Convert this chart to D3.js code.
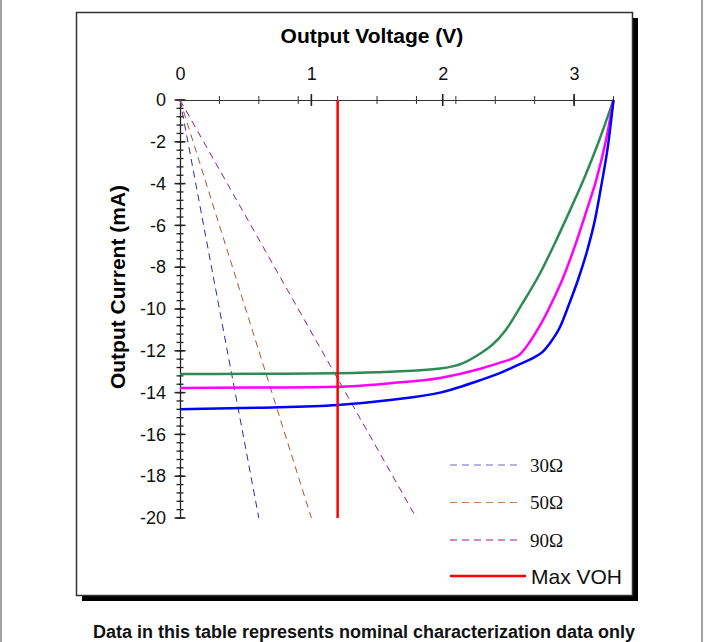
<!DOCTYPE html>
<html><head><meta charset="utf-8">
<script src="https://cdn.jsdelivr.net/npm/d3@7/dist/d3.min.js"></script>
<style>body{margin:0;background:#fff}svg{display:block}</style>
</head><body>
<svg id="c" width="706" height="642"></svg>
<script>
// ---- data ----
const xMajorTicks = [0, 1, 2, 3];
const xMinorTicks = [0.3, 0.6, 0.9, 1.2, 1.5, 1.8, 2.1, 2.4, 2.7, 3.0, 3.3];
const yMajorTicks = [0, -2, -4, -6, -8, -10, -12, -14, -16, -18, -20];
const yMinorStep = 0.4;
const greenV = [0, 0.6, 1.2, 1.6, 1.98, 2.15, 2.28, 2.38, 2.48, 2.6, 2.74, 2.85, 2.96, 3.08, 3.19, 3.3];
const greenI = [-13.11, -13.1, -13.07, -13.0, -12.85, -12.6, -12.15, -11.7, -11.0, -9.8, -8.3, -6.9, -5.4, -3.7, -1.95, 0];
const magentaV = [0, 0.6, 1.2, 1.6, 1.98, 2.28, 2.43, 2.59, 2.66, 2.74, 2.83, 2.91, 3.0, 3.1, 3.17, 3.24, 3.3];
const magentaI = [-13.78, -13.76, -13.72, -13.55, -13.3, -12.87, -12.58, -12.15, -11.6, -10.8, -9.7, -8.6, -7.1, -5.2, -3.8, -2.0, 0];
const blueV = [0, 0.6, 1.2, 1.6, 1.98, 2.28, 2.43, 2.6, 2.7, 2.76, 2.82, 2.89, 2.96, 3.03, 3.1, 3.16, 3.21, 3.26, 3.3];
const blueI = [-14.8, -14.72, -14.59, -14.35, -14.0, -13.42, -13.08, -12.6, -12.3, -12.05, -11.6, -10.9, -9.8, -8.6, -7.2, -5.7, -4.0, -2.1, 0];
const loadNames = ["30\u03A9", "50\u03A9", "90\u03A9"];
const loadOhms = [30, 50, 90];
const maxVOH = 1.2;
const xTitle = "Output Voltage (V)";
const yTitle = "Output Current (mA)";
const footer = "Data in this table represents nominal characterization data only";

// ---- drawing ----
const svg = d3.select("#c");
const x = d3.scaleLinear().domain([0, 3.3]).range([180, 613.5]);
const y = d3.scaleLinear().domain([0, -20]).range([100, 518]);
const SANS = "'Liberation Sans', Arial, sans-serif";
const SERIF = "'Liberation Serif', 'Times New Roman', serif";
const fmt = d => String(d);

// page border lines
svg.append("line").attr("x1", 1).attr("x2", 1).attr("y1", 0).attr("y2", 642).attr("stroke", "#444").attr("stroke-width", 1);
svg.append("line").attr("x1", 702).attr("x2", 702).attr("y1", 0).attr("y2", 642).attr("stroke", "#444").attr("stroke-width", 1);

// box shadow + frame
svg.append("rect").attr("x", 82).attr("y", 18).attr("width", 556).attr("height", 583).attr("fill", "#000");
svg.append("rect").attr("x", 76.5).attr("y", 12.5).attr("width", 556).attr("height", 583).attr("fill", "#fff").attr("stroke", "#333").attr("stroke-width", 1.5);

// titles
svg.append("text").attr("x", 372).attr("y", 43).attr("text-anchor", "middle")
  .attr("font-family", SANS).attr("font-weight", "bold").attr("font-size", 21).text(xTitle);
svg.append("text").attr("transform", "translate(125,287) rotate(-90)").attr("text-anchor", "middle")
  .attr("font-family", SANS).attr("font-weight", "bold").attr("font-size", 21).text(yTitle);

// x axis
const gx = svg.append("g").attr("transform", "translate(0,100)");
gx.call(d3.axisTop(x).tickValues(xMajorTicks).tickSize(0).tickPadding(20).tickFormat(fmt));
gx.select(".domain").attr("stroke", "#333");
gx.selectAll("text").attr("font-family", SANS).attr("font-size", 18).attr("fill", "#111");
gx.selectAll(".minor").data(xMinorTicks).join("line").attr("class", "minor")
  .attr("x1", d => x(d)).attr("x2", d => x(d)).attr("y1", -4).attr("y2", 4).attr("stroke", "#333").attr("stroke-width", 1);
gx.selectAll(".major").data(xMajorTicks.slice(1)).join("line").attr("class", "major")
  .attr("x1", d => x(d)).attr("x2", d => x(d)).attr("y1", -6).attr("y2", 6).attr("stroke", "#222").attr("stroke-width", 1.6);

// y axis
const gy = svg.append("g").attr("transform", "translate(180,0)");
gy.call(d3.axisLeft(y).tickValues(yMajorTicks).tickSize(0).tickPadding(14).tickFormat(fmt));
gy.select(".domain").attr("stroke", "#222").attr("stroke-width", 1.3);
gy.selectAll("text").attr("font-family", SANS).attr("font-size", 18).attr("fill", "#111");
const yMinor = d3.range(0, -20.001, -yMinorStep);
gy.selectAll(".minor").data(yMinor).join("line").attr("class", "minor")
  .attr("x1", -3.5).attr("x2", 3.5).attr("y1", d => y(d)).attr("y2", d => y(d)).attr("stroke", "#222").attr("stroke-width", 1.3);
gy.selectAll(".major").data(yMajorTicks).join("line").attr("class", "major")
  .attr("x1", -5.5).attr("x2", 5.5).attr("y1", d => y(d)).attr("y2", d => y(d)).attr("stroke", "#222").attr("stroke-width", 1.5);

// load lines: V = I * R, I = 20 mA
const loadColors = ["#2c2ca0", "#b2522a", "#8e1a8e"];
const legendDashColors = ["#6a6ac8", "#c87a52", "#9a1a9a"];
loadOhms.forEach((r, k) => {
  const vEnd = 0.020 * r;
  svg.append("line").attr("x1", x(0)).attr("y1", y(0)).attr("x2", x(vEnd)).attr("y2", y(-20))
    .attr("stroke", loadColors[k]).attr("stroke-width", 1).attr("stroke-dasharray", "7,5");
});

// curves
const line = d3.line().x(d => x(d[0])).y(d => y(d[1])).curve(d3.curveMonotoneX);
const curves = [
  {v: greenV, i: greenI, c: "#2e8b57"},
  {v: magentaV, i: magentaI, c: "#ff00ff"},
  {v: blueV, i: blueI, c: "#0000ff"}
];
curves.forEach(s => {
  svg.append("path").attr("d", line(s.v.map((v, k) => [v, s.i[k]])))
    .attr("fill", "none").attr("stroke", s.c).attr("stroke-width", 2.5);
});

// max VOH
svg.append("line").attr("x1", x(maxVOH)).attr("x2", x(maxVOH)).attr("y1", y(0)).attr("y2", y(-20))
  .attr("stroke", "#ff0000").attr("stroke-width", 2.5);

// legend
const legY = [465, 502.5, 540];
loadNames.forEach((n, k) => {
  svg.append("line").attr("x1", 450).attr("x2", 521).attr("y1", legY[k]).attr("y2", legY[k])
    .attr("stroke", legendDashColors[k]).attr("stroke-width", 1.2).attr("stroke-dasharray", "7,5");
  svg.append("text").attr("x", 530).attr("y", legY[k] + 6.5).attr("font-family", SERIF).attr("font-size", 19).attr("fill", "#111").text(n);
});
svg.append("line").attr("x1", 450).attr("x2", 526).attr("y1", 576).attr("y2", 576).attr("stroke", "#ff0000").attr("stroke-width", 2.5);
svg.append("text").attr("x", 531).attr("y", 583.5).attr("font-family", SANS).attr("font-size", 21).attr("fill", "#111").text("Max VOH");

// footer
svg.append("text").attr("x", 364).attr("y", 638).attr("text-anchor", "middle")
  .attr("font-family", SANS).attr("font-weight", "bold").attr("font-size", 18).attr("fill", "#111").text(footer);
</script>
</body></html>
